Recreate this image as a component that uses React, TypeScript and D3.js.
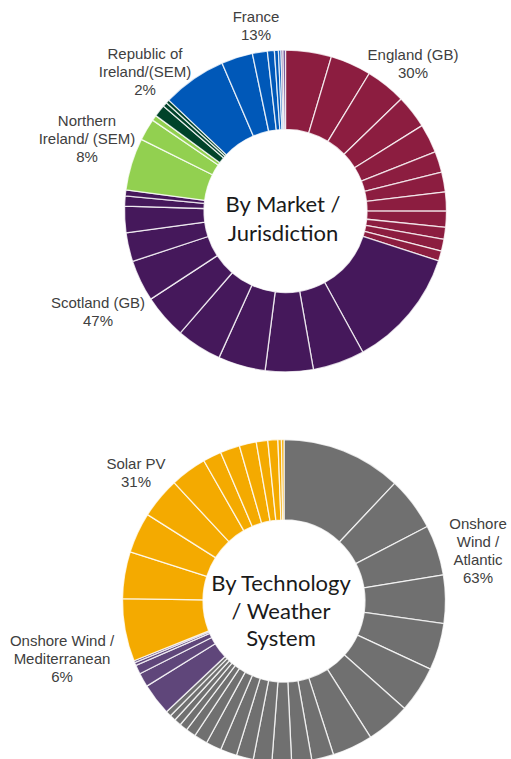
import React from "react";
import * as d3 from "d3";

// ---- Top donut: By Market / Jurisdiction (shares in %) ----
const englandSlices = [4.6, 4.1, 4.05, 3.35, 2.9, 2.1, 2.0, 1.9, 1.6, 1.2, 1.2, 1.0];
const scotlandSlices = [12.0, 5.2, 4.8, 4.75, 4.55, 4.45, 4.15, 2.9, 2.65, 1.0, 0.6];
const niSlices = [5.25, 2.2, 0.55];
const roiSlices = [1.2, 0.45, 0.35];
const franceSlices = [6.45, 3.15, 1.5, 0.7, 0.4, 0.25];
const otherSlices = [0.2, 0.25];

const marketGroups = [
  { name: "England (GB)", slices: englandSlices, color: "#8C1D40" },
  { name: "Scotland (GB)", slices: scotlandSlices, color: "#45185B" },
  { name: "Northern Ireland/ (SEM)", slices: niSlices, color: "#92D050" },
  { name: "Republic of Ireland/(SEM)", slices: roiSlices, color: "#00432A" },
  { name: "France", slices: franceSlices, color: "#0058B8" },
  { name: "Other", slices: otherSlices, color: "#6A4C93" },
];

// ---- Bottom donut: By Technology / Weather System ----
const atlanticSlices = [12.0, 5.35, 5.05, 4.8, 4.7, 4.65, 4.4, 4.05, 2.2, 2.0, 1.95, 1.85, 1.7, 1.65, 1.55, 1.35, 1.0, 0.8, 0.7, 0.6, 0.55];
const mediterraneanSlices = [3.2, 1.4, 0.9, 0.3, 0.2];
const solarSlices = [6.25, 4.7, 4.05, 4.1, 3.65, 1.85, 1.95, 1.7, 1.15, 1.0, 0.35, 0.25];

const techGroups = [
  { name: "Onshore Wind / Atlantic", slices: atlanticSlices, color: "#707070" },
  { name: "Onshore Wind / Mediterranean", slices: mediterraneanSlices, color: "#5F467A" },
  { name: "Solar PV", slices: solarSlices, color: "#F4AA00" },
];

// Labels
const marketLabels = [
  { lines: ["France", "13%"], x: 256, y: 16 },
  { lines: ["Republic of", "Ireland/(SEM)", "2%"], x: 145, y: 53 },
  { lines: ["England (GB)", "30%"], x: 413, y: 54 },
  { lines: ["Northern", "Ireland/ (SEM)", "8%"], x: 87, y: 120 },
  { lines: ["Scotland (GB)", "47%"], x: 98, y: 302 },
];
const techLabels = [
  { lines: ["Solar PV", "31%"], x: 136, y: 463 },
  { lines: ["Onshore", "Wind /", "Atlantic", "63%"], x: 478, y: 523 },
  { lines: ["Onshore Wind /", "Mediterranean", "6%"], x: 62, y: 640 },
];
const marketCenter = ["By Market /", "Jurisdiction"];
const techCenter = ["By Technology", "/ Weather", "System"];

type Group = { name: string; slices: number[]; color: string };

function Donut({ groups, cx, cy, outer, inner }: { groups: Group[]; cx: number; cy: number; outer: number; inner: number }) {
  const items = groups.flatMap((g) => g.slices.map((v, i) => ({ v, color: g.color, key: g.name + i })));
  const pie = d3.pie<any>().sort(null).value((d) => d.v).startAngle(0).endAngle(2 * Math.PI);
  const arc = d3.arc<any>().innerRadius(inner).outerRadius(outer);
  const arcs = pie(items);
  return (
    <g transform={`translate(${cx},${cy})`}>
      {arcs.map((a) => (
        <path key={a.data.key} d={arc(a) as string} fill={a.data.color} stroke="#ffffff" strokeOpacity={0.78} strokeWidth={1.3} strokeLinejoin="bevel" />
      ))}
    </g>
  );
}

function Labels({ labels }: { labels: { lines: string[]; x: number; y: number }[] }) {
  return (
    <g fontFamily="'Liberation Sans', Arial, sans-serif" fontSize={15} fill="#404040" textAnchor="middle">
      {labels.map((l, i) => (
        <text key={i} x={l.x} y={l.y} dominantBaseline="central">
          {l.lines.map((s, j) => (
            <tspan key={j} x={l.x} dy={j === 0 ? 0 : 18}>{s}</tspan>
          ))}
        </text>
      ))}
    </g>
  );
}

function CenterText({ lines, x, y, step }: { lines: string[]; x: number; y: number; step: number }) {
  return (
    <text x={x} y={y} textAnchor="middle" dominantBaseline="central" fontFamily="Lato, 'Open Sans', sans-serif" fontSize={22} fill="#1a1a1a">
      {lines.map((s, j) => (
        <tspan key={j} x={x} dy={j === 0 ? 0 : step}>{s}</tspan>
      ))}
    </text>
  );
}

export default function App() {
  return (
    <svg width={511} height={759} style={{ position: "absolute", left: 0, top: 0, background: "#fff" }}>
      <Donut groups={marketGroups} cx={285.5} cy={211} outer={161} inner={81.5} />
      <Donut groups={techGroups} cx={284} cy={601} outer={161.5} inner={81} />
      <Labels labels={marketLabels} />
      <Labels labels={techLabels} />
      <CenterText lines={marketCenter} x={283} y={203} step={29} />
      <CenterText lines={techCenter} x={281} y={582} step={27.5} />
    </svg>
  );
}
